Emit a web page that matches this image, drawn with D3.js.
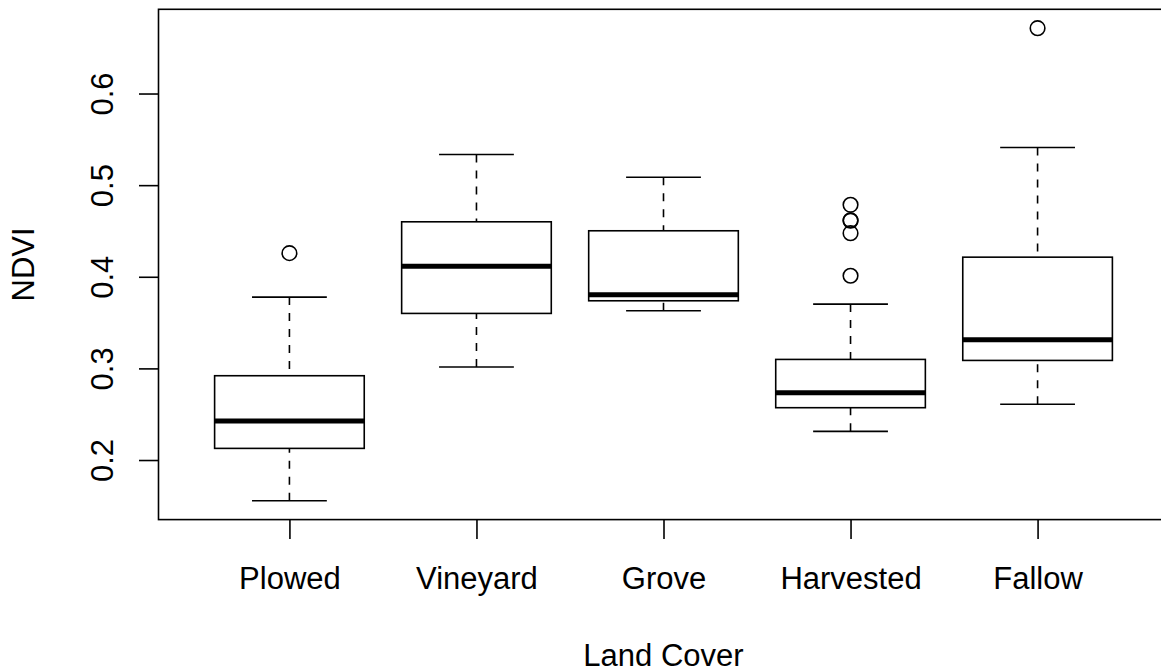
<!DOCTYPE html>
<html>
<head>
<meta charset="utf-8">
<script src="https://cdn.jsdelivr.net/npm/d3@7"></script>
<style>
	body { margin: 0; background: #fff; }
	svg { display: block; font-family: "Liberation Sans", Arial, Helvetica, sans-serif; }
</style>
</head>
<body>
<svg width="1161" height="670"></svg>
<script>

var categories = [ "Plowed", "Vineyard", "Grove", "Harvested", "Fallow" ];

var lowerWhisker = [ 0.1556, 0.3015, 0.3629, 0.2313, 0.2608 ];
var q1           = [ 0.2127, 0.3600, 0.3738, 0.2571, 0.3087 ];
var median       = [ 0.2425, 0.4116, 0.3804, 0.2734, 0.3312 ];
var q3           = [ 0.2920, 0.4600, 0.4502, 0.3098, 0.4214 ];
var upperWhisker = [ 0.3778, 0.5335, 0.5087, 0.3702, 0.5411 ];

var outliers = [
	[ 0.4258 ],
	[],
	[],
	[ 0.4785, 0.4617, 0.4612, 0.4476, 0.4011 ],
	[ 0.6713 ]
];

var yTicks = [ 0.2, 0.3, 0.4, 0.5, 0.6 ];

var margin = {
	top: 9.3,
	left: 158.5,
	bottom: 519.6,
	right: 1168.5
};

var fontSize = 31;
var lw = 1.6;

var svg = d3.select("svg");

var boxes = categories.map( (c, i) => ({
	name: c,
	pos: i + 1,
	lo: lowerWhisker[i],
	q1: q1[i],
	med: median[i],
	q3: q3[i],
	hi: upperWhisker[i],
	out: outliers[i]
}));

// R style range: data extent padded by 4% on each side
var all = [].concat(lowerWhisker, upperWhisker, ...outliers);
var ymin = d3.min(all), ymax = d3.max(all);
var pad = (ymax - ymin) * 0.04;

var y = d3.scaleLinear()
	.domain([ ymin - pad, ymax + pad ])
	.range([ margin.bottom, margin.top ]);

var x = d3.scaleLinear()
	.domain([ 0.5 - 0.2, categories.length + 0.5 + 0.2 ])
	.range([ margin.left, margin.right ]);

var unit = x(1) - x(0);
var boxw = 0.8 * unit;
var capw = 0.4 * unit;

var g = svg.selectAll(".box")
	.data(boxes)
	.join("g")
	.attr("class", "box");

// whiskers, drawn from the end towards the box
g.append("line")
	.attr("x1", d => x(d.pos))
	.attr("x2", d => x(d.pos))
	.attr("y1", d => y(d.hi))
	.attr("y2", d => y(d.q3))
	.attr("stroke", "#000")
	.attr("stroke-width", lw)
	.attr("stroke-dasharray", "8,8");

g.append("line")
	.attr("x1", d => x(d.pos))
	.attr("x2", d => x(d.pos))
	.attr("y1", d => y(d.lo))
	.attr("y2", d => y(d.q1))
	.attr("stroke", "#000")
	.attr("stroke-width", lw)
	.attr("stroke-dasharray", "8,8");

[ "lo", "hi" ].forEach( k => {

	g.append("line")
		.attr("x1", d => x(d.pos) - capw / 2)
		.attr("x2", d => x(d.pos) + capw / 2)
		.attr("y1", d => y(d[k]))
		.attr("y2", d => y(d[k]))
		.attr("stroke", "#000")
		.attr("stroke-width", lw);

});

g.append("rect")
	.attr("x", d => x(d.pos) - boxw / 2)
	.attr("width", boxw)
	.attr("y", d => y(d.q3))
	.attr("height", d => y(d.q1) - y(d.q3))
	.attr("fill", "#fff")
	.attr("stroke", "#000")
	.attr("stroke-width", lw);

g.append("line")
	.attr("x1", d => x(d.pos) - boxw / 2)
	.attr("x2", d => x(d.pos) + boxw / 2)
	.attr("y1", d => y(d.med))
	.attr("y2", d => y(d.med))
	.attr("stroke", "#000")
	.attr("stroke-width", 5);

g.selectAll("circle")
	.data(d => d.out.map( v => ({ pos: d.pos, v: v }) ))
	.join("circle")
	.attr("cx", d => x(d.pos))
	.attr("cy", d => y(d.v))
	.attr("r", 7.3)
	.attr("fill", "none")
	.attr("stroke", "#000")
	.attr("stroke-width", lw);

// axes
var yAxis = svg.append("g")
	.attr("transform", `translate(${margin.left},0)`)
	.call(d3.axisLeft(y).tickValues(yTicks).tickSize(19.5).tickFormat(d3.format(".1f")));

var xAxis = svg.append("g")
	.attr("transform", `translate(0,${margin.bottom})`)
	.call(d3.axisBottom(x).tickValues(d3.range(1, categories.length + 1)).tickSize(19.5).tickFormat( d => categories[d - 1] ));

[ yAxis, xAxis ].forEach( a => {
	a.select(".domain").remove();
	a.selectAll("line").attr("stroke", "#000").attr("stroke-width", lw);
	a.selectAll("text")
		.attr("fill", "#000")
		.attr("font-size", fontSize);
	a.attr("font-family", null).attr("font-size", null);
});

yAxis.selectAll("text")
	.attr("x", null)
	.attr("dy", null)
	.attr("text-anchor", "middle")
	.attr("transform", "translate(-45.5,0) rotate(-90)");

xAxis.selectAll("text")
	.attr("dy", null)
	.attr("y", 69);

// frame
svg.append("rect")
	.attr("x", margin.left)
	.attr("y", margin.top)
	.attr("width", margin.right - margin.left)
	.attr("height", margin.bottom - margin.top)
	.attr("fill", "none")
	.attr("stroke", "#000")
	.attr("stroke-width", lw);

svg.append("text")
	.attr("x", (margin.left + margin.right) / 2)
	.attr("y", 665.5)
	.attr("text-anchor", "middle")
	.attr("font-size", fontSize)
	.text("Land Cover");

svg.append("text")
	.attr("transform", `translate(33.5,${(margin.top + margin.bottom) / 2}) rotate(-90)`)
	.attr("text-anchor", "middle")
	.attr("font-size", fontSize)
	.text("NDVI");

</script>
</body>
</html>
